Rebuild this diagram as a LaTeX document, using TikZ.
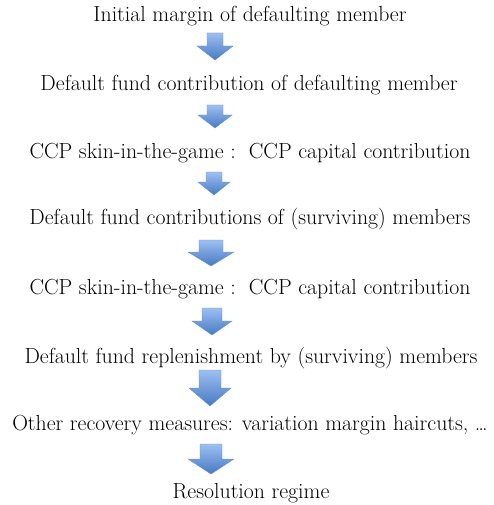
\documentclass[tikz,border=0pt]{standalone}
\definecolor{arrtop}{HTML}{9DC0F2}
\definecolor{arrbot}{HTML}{4779C2}
\definecolor{arredge}{HTML}{6592D2}
\begin{document}
\begin{tikzpicture}[x=1pt,y=-1pt,
  lbl/.style={anchor=base,inner sep=0pt,font=\fontsize{21.8}{26}\selectfont},
  blockarrow/.style={top color=arrtop,bottom color=arrbot,draw=arredge,line width=0.4pt,line join=miter}]
\useasboundingbox (0,0) rectangle (494,505);
% cx, top, headstart, tip, halfshaft, halfhead
\newcommand\myblockarrow[6]{%
  \shade[blockarrow] (#1-#5,#2) -- (#1+#5,#2) -- (#1+#5,#3) -- (#1+#6,#3) -- (#1,#4) -- (#1-#6,#3) -- (#1-#5,#3) -- cycle;}
\node[lbl] (t1) at (250,22) {Initial margin of defaulting member};
\node[lbl] (t2) at (249,91) {Default fund contribution of defaulting member};
\node[lbl] (t3) at (250,158) {CCP skin-in-the-game :\ \ CCP capital contribution};
\node[lbl] (t4) at (250,224) {Default fund contributions of (surviving) members};
\node[lbl] (t5) at (250,294) {CCP skin-in-the-game :\ \ CCP capital contribution};
\node[lbl] (t6) at (251,363) {Default fund replenishment by (surviving) members};
\node[lbl] (t7) at (250,430) {Other recovery measures: variation margin haircuts, \dots};
\node[lbl] (t8) at (251,498) {Resolution regime};
\myblockarrow{215}{33}{46}{60}{8}{18}
\myblockarrow{215}{105}{115}{128}{8}{17}
\myblockarrow{214}{172}{182}{195}{8}{16}
\myblockarrow{211}{240}{252}{266}{12}{23}
\myblockarrow{212}{308}{321}{335}{10}{20}
\myblockarrow{210}{370}{388}{406}{11}{21}
\myblockarrow{211}{444}{459}{474}{11}{23}
\end{tikzpicture}
\end{document}
